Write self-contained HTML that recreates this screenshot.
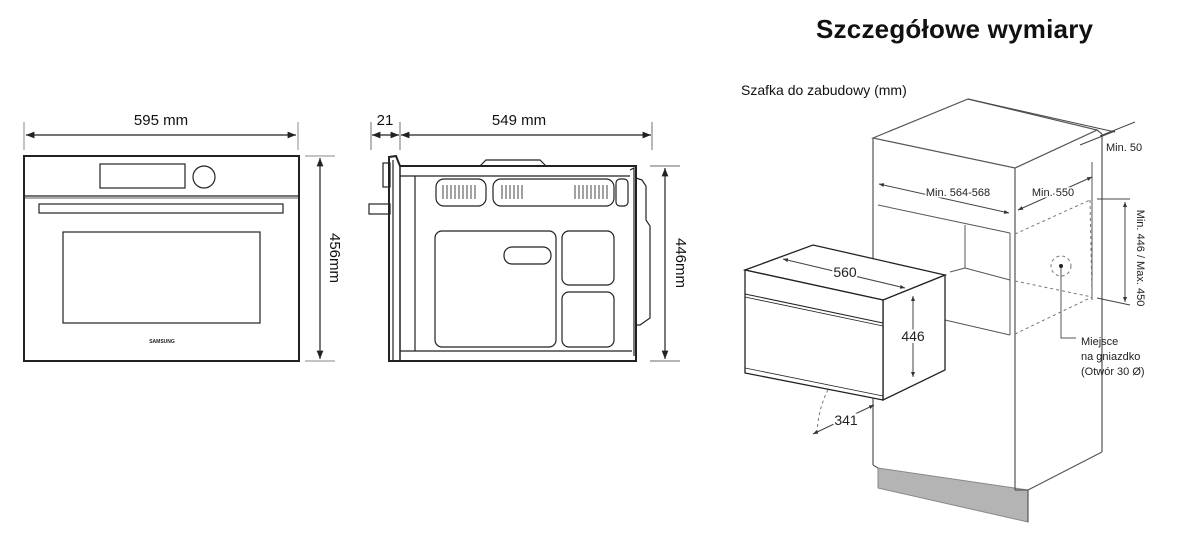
<!DOCTYPE html>
<html><head><meta charset="utf-8"><style>
html,body{margin:0;padding:0;background:#fff;}
svg{display:block;font-family:"Liberation Sans",sans-serif;}
</style></head><body>
<svg width="1177" height="543" viewBox="0 0 1177 543" xmlns="http://www.w3.org/2000/svg">
<defs>
<marker id="a" viewBox="0 0 10 10" refX="10" refY="5" markerWidth="7" markerHeight="7" orient="auto-start-reverse"><path d="M0,1 L10,5 L0,9 z" fill="#222"/></marker>
<marker id="s" viewBox="0 0 10 10" refX="10" refY="5" markerWidth="5" markerHeight="5" orient="auto-start-reverse"><path d="M0,1 L10,5 L0,9 z" fill="#333"/></marker>
</defs>
<text x="816" y="38" font-size="26" font-weight="bold" fill="#111" textLength="277">Szczegółowe wymiary</text>
<text x="741" y="95" font-size="14" fill="#111">Szafka do zabudowy (mm)</text>

<!-- FRONT VIEW -->
<g stroke="#222" fill="none">
<line x1="24" y1="122" x2="24" y2="150" stroke-width="1" stroke="#888"/>
<line x1="298" y1="122" x2="298" y2="150" stroke-width="1" stroke="#888"/>
<line x1="26" y1="135" x2="296" y2="135" stroke-width="1.2" marker-start="url(#a)" marker-end="url(#a)"/>
<rect x="24" y="156" width="275" height="205" stroke-width="2"/>
<rect x="100" y="164" width="85" height="24" stroke-width="1.2"/>
<circle cx="204" cy="177" r="11" stroke-width="1.2"/>
<line x1="24" y1="196" x2="299" y2="196" stroke-width="1.2"/>
<line x1="24" y1="198" x2="299" y2="198" stroke-width="0.8"/>
<rect x="39" y="204" width="244" height="9" stroke-width="1.2"/>
<rect x="63" y="232" width="197" height="91" stroke-width="1.2"/>
<line x1="305" y1="156" x2="335" y2="156" stroke="#888"/>
<line x1="305" y1="361" x2="335" y2="361" stroke="#888"/>
<line x1="320" y1="158" x2="320" y2="359" stroke-width="1.2" marker-start="url(#a)" marker-end="url(#a)"/>
</g>
<text x="161" y="125" font-size="15" text-anchor="middle" fill="#111">595 mm</text>
<text x="162" y="343" font-size="5" font-weight="bold" text-anchor="middle" fill="#222">SAMSUNG</text>
<text transform="translate(330,258) rotate(90)" font-size="15" text-anchor="middle" fill="#111">456mm</text>

<!-- SIDE VIEW -->
<g stroke="#222" fill="none" stroke-width="1.2">
<line x1="371" y1="122" x2="371" y2="150" stroke="#888"/>
<line x1="400" y1="122" x2="400" y2="150" stroke="#888"/>
<line x1="652" y1="122" x2="652" y2="150" stroke="#888"/>
<line x1="372" y1="135" x2="399" y2="135" marker-start="url(#a)" marker-end="url(#a)"/>
<line x1="401" y1="135" x2="651" y2="135" marker-start="url(#a)" marker-end="url(#a)"/>
<path d="M389,157 L396,156 L400,166 L636,166 L636,361 L389,361 Z" stroke-width="2"/>
<line x1="400" y1="166" x2="400" y2="361" stroke-width="1.5"/>
<line x1="393" y1="160" x2="393" y2="361"/>
<rect x="383" y="163" width="7" height="24"/>
<rect x="369" y="204" width="21" height="10"/>
<path d="M480,166 L486,160 L540,160 L546,166"/>
<line x1="400" y1="176" x2="630" y2="176"/>
<line x1="415" y1="176" x2="415" y2="351"/>
<line x1="400" y1="351" x2="632" y2="351"/>
<path d="M630,170 L634,168 L634,356"/>
<rect x="436" y="179" width="50" height="27" rx="8"/>
<rect x="493" y="179" width="121" height="27" rx="8"/>
<rect x="616" y="179" width="12" height="27" rx="4"/>
<rect x="435" y="231" width="121" height="116" rx="7"/>
<rect x="504" y="247" width="47" height="17" rx="8"/>
<rect x="562" y="231" width="52" height="54" rx="7"/>
<rect x="562" y="292" width="52" height="55" rx="7"/>
<path d="M636,178 L642,180 L646,186 L646,220 L650,226 L650,318 L640,325 L636,325"/>
<line x1="650" y1="166" x2="680" y2="166" stroke="#888"/>
<line x1="650" y1="361" x2="680" y2="361" stroke="#888"/>
<line x1="665" y1="168" x2="665" y2="359" marker-start="url(#a)" marker-end="url(#a)"/>
</g>
<g stroke="#444" stroke-width="1">
<path d="M443,185v14M447,185v14M451,185v14M455,185v14M459,185v14M463,185v14M467,185v14M471,185v14M475,185v14"/>
<path d="M502,185v14M506,185v14M510,185v14M514,185v14M518,185v14M522,185v14"/>
<path d="M575,185v14M579,185v14M583,185v14M587,185v14M591,185v14M595,185v14M599,185v14M603,185v14M607,185v14"/>
</g>
<text x="385" y="125" font-size="15" text-anchor="middle" fill="#111">21</text>
<text x="519" y="125" font-size="15" text-anchor="middle" fill="#111">549 mm</text>
<text transform="translate(676,263) rotate(90)" font-size="15" text-anchor="middle" fill="#111">446mm</text>

<!-- ISO CABINET -->
<polygon points="878,468 1028,490 1028,522 878,488" fill="#b4b4b4" stroke="#888"/>
<g stroke="#555" fill="none" stroke-width="1.2">
<polygon points="873,138 968,99 1097,130 1015,168"/>
<line x1="873" y1="138" x2="873" y2="465"/>
<line x1="873" y1="465" x2="878" y2="468"/>
<line x1="1015" y1="168" x2="1015" y2="490"/>
<line x1="1028" y1="490" x2="1028" y2="522"/>
<line x1="1015" y1="490" x2="1028" y2="490"/>
<line x1="1097" y1="130" x2="1102" y2="134"/>
<line x1="1102" y1="134" x2="1102" y2="452"/>
<line x1="1102" y1="452" x2="1028" y2="490"/>
<line x1="878" y1="205" x2="1010" y2="233" stroke-width="1"/>
<line x1="965" y1="225" x2="965" y2="268" stroke-width="1"/>
<line x1="950" y1="272" x2="965" y2="268" stroke-width="1"/>
<line x1="965" y1="268" x2="1010" y2="280" stroke-width="1"/>
<line x1="945" y1="320" x2="1010" y2="335" stroke-width="1"/>
<line x1="1010" y1="233" x2="1010" y2="335" stroke-width="1"/>
<line x1="1092" y1="162" x2="1092" y2="300" stroke-width="1"/>
</g>
<g stroke="#777" fill="none" stroke-width="1" stroke-dasharray="3,3">
<line x1="1015" y1="234" x2="1090" y2="200"/>
<line x1="1015" y1="281" x2="1092" y2="297"/>
<line x1="1015" y1="334" x2="1092" y2="297"/>
<line x1="1090" y1="200" x2="1092" y2="297"/>
<circle cx="1061" cy="266" r="10"/>
<path d="M817,433 Q820,370 885,335"/>
</g>
<circle cx="1061" cy="266" r="2" fill="#222"/>
<polyline points="1061,268 1061,338 1076,338" fill="none" stroke="#555"/>
<g stroke="#444" fill="none" stroke-width="1">
<line x1="968" y1="99" x2="1115" y2="132"/>
<line x1="1100" y1="136" x2="1135" y2="122"/>
<line x1="1080" y1="145" x2="1115" y2="131"/>
<line x1="879" y1="184" x2="1009" y2="213" marker-start="url(#s)" marker-end="url(#s)"/>
<line x1="1018" y1="210" x2="1092" y2="177" marker-start="url(#s)" marker-end="url(#s)"/>
<line x1="1097" y1="199" x2="1130" y2="199"/>
<line x1="1097" y1="298" x2="1130" y2="305"/>
<line x1="1125" y1="202" x2="1125" y2="302" marker-start="url(#s)" marker-end="url(#s)"/>
</g>
<text x="958" y="196" font-size="11" text-anchor="middle" fill="#222" stroke="#fff" stroke-width="3" paint-order="stroke">Min. 564-568</text>
<text x="1053" y="196" font-size="11" text-anchor="middle" fill="#222" stroke="#fff" stroke-width="3" paint-order="stroke">Min. 550</text>
<text x="1106" y="151" font-size="11" fill="#222">Min. 50</text>
<text transform="translate(1137,258) rotate(90)" font-size="11" text-anchor="middle" fill="#222">Min. 446 / Max. 450</text>
<text x="1081" y="345" font-size="11" fill="#222">Miejsce</text>
<text x="1081" y="360" font-size="11" fill="#222">na gniazdko</text>
<text x="1081" y="375" font-size="11" fill="#222">(Otwór 30 Ø)</text>

<!-- ISO OVEN -->
<g stroke="#222" fill="#fff" stroke-width="1.3">
<polygon points="883,300 945,275 945,370 883,400"/>
<polygon points="745,270 813,245 945,275 883,300"/>
<polygon points="745,270 883,300 883,400 745,373"/>
<line x1="745" y1="294" x2="883" y2="323" stroke-width="1"/>
<line x1="745" y1="297" x2="883" y2="326" stroke-width="0.8"/>
<line x1="745" y1="368" x2="883" y2="396" stroke-width="0.8"/>
</g>
<g stroke="#444" fill="none" stroke-width="1">
<line x1="783" y1="259" x2="905" y2="288" marker-start="url(#s)" marker-end="url(#s)"/>
<line x1="913" y1="296" x2="913" y2="377" marker-start="url(#s)" marker-end="url(#s)"/>
<line x1="813" y1="434" x2="874" y2="405" marker-start="url(#s)" marker-end="url(#s)"/>
</g>
<text x="845" y="277" font-size="14" text-anchor="middle" fill="#222" stroke="#fff" stroke-width="4" paint-order="stroke">560</text>
<text x="913" y="341" font-size="14" text-anchor="middle" fill="#222" stroke="#fff" stroke-width="4" paint-order="stroke">446</text>
<text x="846" y="425" font-size="14" text-anchor="middle" fill="#222" stroke="#fff" stroke-width="4" paint-order="stroke">341</text>
</svg>
</body></html>
